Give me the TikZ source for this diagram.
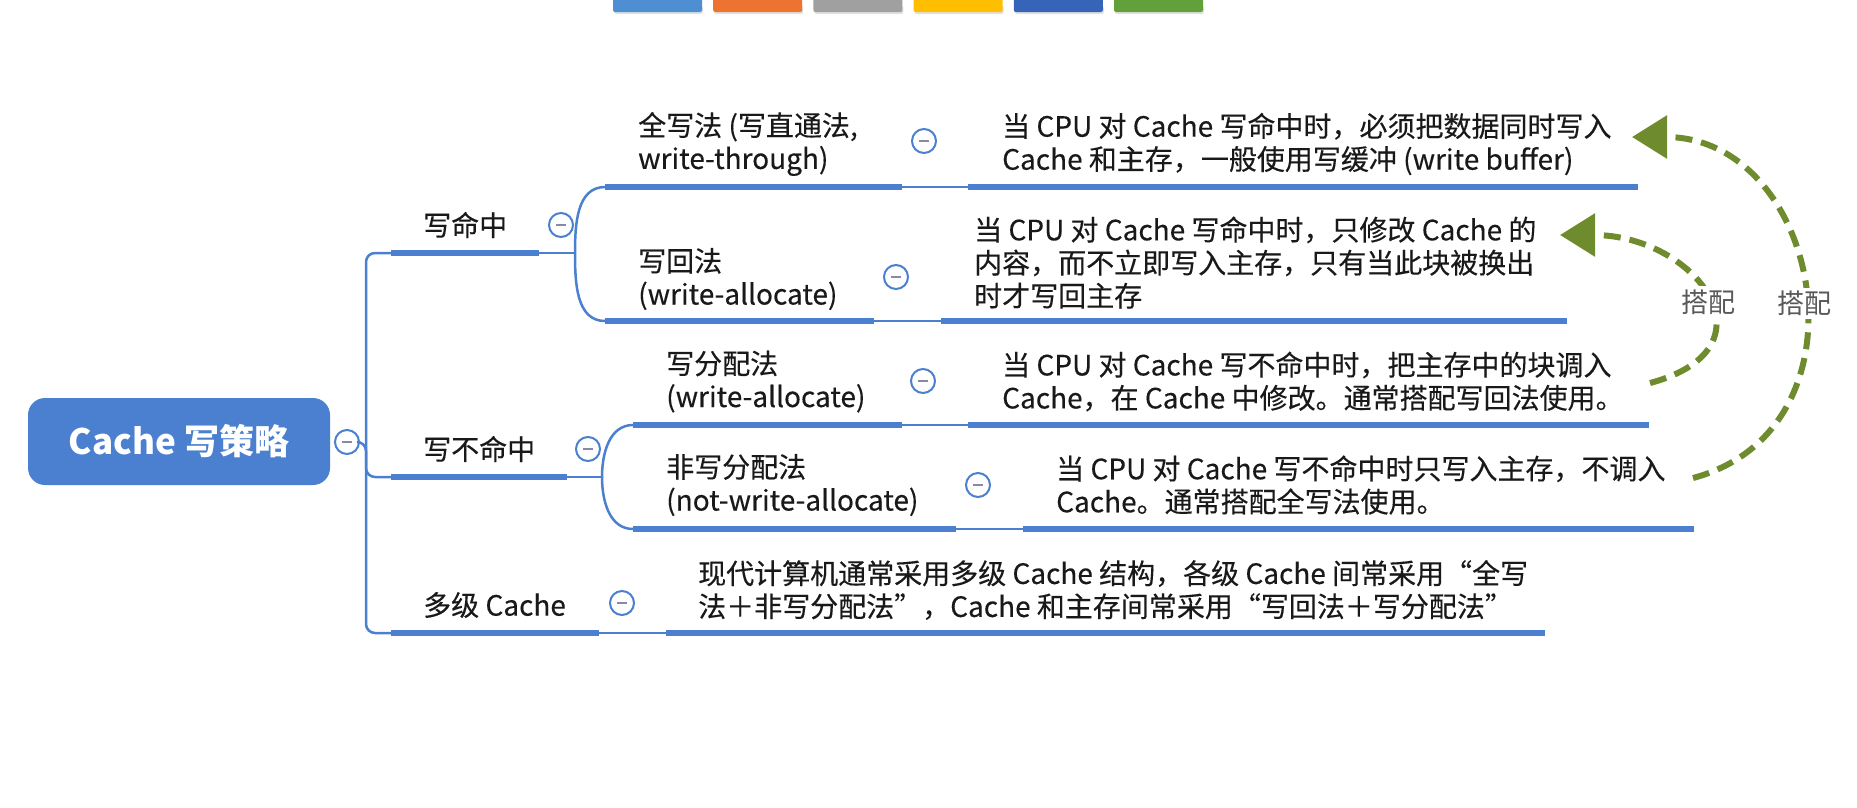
\documentclass[tikz,border=0pt]{standalone}
\usepackage{fontspec}
\setmainfont{Noto Sans CJK SC}
\usetikzlibrary{arrows.meta}
\definecolor{mmblue}{HTML}{4A80CF}
\definecolor{mmgreen}{HTML}{6E8C2D}
\definecolor{mmminus}{HTML}{8A88A8}
\definecolor{tabblue}{HTML}{4E8FD4}
\definecolor{taborange}{HTML}{ED7331}
\definecolor{tabgray}{HTML}{A0A0A0}
\definecolor{tabyellow}{HTML}{FFBF00}
\definecolor{tabnavy}{HTML}{3564B8}
\definecolor{tabgreen}{HTML}{62A03C}

\begin{document}
\begin{tikzpicture}[x=1pt,y=1pt,
  txt/.style={anchor=west, inner sep=0pt, align=left, text=black!90,
    font=\fontsize{28}{33}\selectfont\addfontfeature{FakeBold=0.3}},
  rootbox/.style={fill=mmblue, rounded corners=17pt, minimum width=302pt,
    minimum height=87pt, text=white, font=\fontsize{35}{40}\selectfont\bfseries},
  foldbtn/.style={circle, draw=mmblue, line width=2pt, fill=white,
    minimum size=24pt, inner sep=0pt,
    path picture={\draw[mmminus, line width=2.2pt]
      ([xshift=-5pt]path picture bounding box.center) --
      ([xshift=5pt]path picture bounding box.center);}},
  bar/.style={mmblue, line width=6pt},
  wire/.style={mmblue, line width=2.5pt},
  pairing/.style={mmgreen, line width=6pt, dash pattern=on 17pt off 9pt,
    -{Triangle[length=35pt,width=42pt]}},
  pairlbl/.style={fill=white, text=black!65, inner sep=3pt,
    font=\fontsize{27}{30}\selectfont}]

\useasboundingbox (0,0) rectangle (1857,-807);

% toolbar
\foreach \c [count=\i from 0] in {tabblue,taborange,tabgray,tabyellow,tabnavy,tabgreen}
{
  \fill[black!12, rounded corners=2pt] (614+100.2*\i,-6) rectangle ++(89,-8);
  \fill[\c, rounded corners=2pt] (613+100.2*\i,2) rectangle ++(89,-14);
}

% root
\node[rootbox] (root) at (179,-441.5) {Cache 写策略};
\coordinate (trunk) at (366,-442);

% first level
\node[txt] (hit) at (423,-225) {写命中};
\node[txt] (miss) at (423,-449) {写不命中};
\node[txt] (multi) at (423,-605) {多级 Cache};
\coordinate (hitL) at (391,-253);
\coordinate (hitR) at (539,-253);
\coordinate (hitF) at (575,-253);
\coordinate (missL) at (391,-477);
\coordinate (missR) at (567,-477);
\coordinate (missF) at (602,-477);
\coordinate (multiL) at (391,-633);
\coordinate (multiR) at (599,-633);

% second level
\node[txt] (wt) at (638,-144) {全写法 (写直通法,\\write-through)};
\node[txt] (wb) at (638,-279) {写回法\\(write-allocate)};
\node[txt] (wa) at (666,-381.5) {写分配法\\(write-allocate)};
\node[txt] (nwa) at (666,-485) {非写分配法\\(not-write-allocate)};
\coordinate (wtL) at (605,-187);
\coordinate (wtR) at (902,-187);
\coordinate (wbL) at (605,-321);
\coordinate (wbR) at (874,-321);
\coordinate (waL) at (633,-425);
\coordinate (waR) at (902,-425);
\coordinate (nwaL) at (633,-529);
\coordinate (nwaR) at (956,-529);

% descriptions
\node[txt] (wtD) at (1002,-144) {当 CPU 对 Cache 写命中时，必须把数据同时写入\\Cache 和主存，一般使用写缓冲 (write buffer)};
\node[txt] (wbD) at (974,-262.5) {当 CPU 对 Cache 写命中时，只修改 Cache 的\\内容，而不立即写入主存，只有当此块被换出\\时才写回主存};
\node[txt] (waD) at (1002,-381.5) {当 CPU 对 Cache 写不命中时，把主存中的块调入\\Cache，在 Cache 中修改。通常搭配写回法使用。};
\node[txt] (nwaD) at (1056,-485) {当 CPU 对 Cache 写不命中时只写入主存，不调入\\Cache。通常搭配全写法使用。};
\node[txt] (multiD) at (698,-590) {现代计算机通常采用多级 Cache 结构，各级 Cache 间常采用“全写\\法＋非写分配法”，Cache 和主存间常采用“写回法＋写分配法”};
\coordinate (wtDL) at (968,-187);
\coordinate (wtDR) at (1638,-187);
\coordinate (wbDL) at (941,-321);
\coordinate (wbDR) at (1567,-321);
\coordinate (waDL) at (968,-425);
\coordinate (waDR) at (1649,-425);
\coordinate (nwaDL) at (1023,-529);
\coordinate (nwaDR) at (1694,-529);
\coordinate (multiDL) at (666,-633);
\coordinate (multiDR) at (1545,-633);

% fold buttons
\node[foldbtn] (rootbtn) at (347,-442) {};
\node[foldbtn] (hitbtn) at (561,-225) {};
\node[foldbtn] (missbtn) at (588,-449) {};
\node[foldbtn] (multibtn) at (622,-603) {};
\node[foldbtn] (wtbtn) at (924,-141) {};
\node[foldbtn] (wbbtn) at (896,-277) {};
\node[foldbtn] (wabtn) at (923,-381) {};
\node[foldbtn] (nwabtn) at (978,-485) {};

% trunk
\draw[wire, rounded corners=9pt] (hitL) -- (hitL -| trunk) -- (multiL -| trunk) -- (multiL);
\draw[wire, rounded corners=9pt] (rootbtn) -- (trunk) -- (missL -| trunk) -- (missL);

% branches
\draw[bar] (hitL) -- (hitR);
\draw[wire] (hitR) -- (hitF);
\draw[bar] (missL) -- (missR);
\draw[wire] (missR) -- (missF);
\draw[bar] (multiL) -- (multiR);
\draw[wire] (multiR) -- (multiDL);
\draw[bar] (multiDL) -- (multiDR);

\draw[wire] (hitF) to[out=90,in=180] (wtL);
\draw[wire] (hitF) to[out=-90,in=180] (wbL);
\draw[wire] (missF) to[out=90,in=180] (waL);
\draw[wire] (missF) to[out=-90,in=180] (nwaL);

\draw[bar] (wtL) -- (wtR);
\draw[wire] (wtR) -- (wtDL);
\draw[bar] (wtDL) -- (wtDR);
\draw[bar] (wbL) -- (wbR);
\draw[wire] (wbR) -- (wbDL);
\draw[bar] (wbDL) -- (wbDR);
\draw[bar] (waL) -- (waR);
\draw[wire] (waR) -- (waDL);
\draw[bar] (waDL) -- (waDR);
\draw[bar] (nwaL) -- (nwaR);
\draw[wire] (nwaR) -- (nwaDL);
\draw[bar] (nwaDL) -- (nwaDR);

% pairing arrows
\coordinate (innerTail) at (1650,-383);
\coordinate (innerTip) at (1560,-235);
\coordinate (outerTail) at (1693,-478);
\coordinate (outerTip) at (1632,-137);
\draw[pairing] (innerTail) to[out=15,in=0,looseness=2] node[pos=.47,pairlbl] {搭配} (innerTip);
\draw[pairing] (outerTail) to[out=15,in=0,looseness=1.4] node[pos=.47,pairlbl] {搭配} (outerTip);
\end{tikzpicture}
\end{document}
